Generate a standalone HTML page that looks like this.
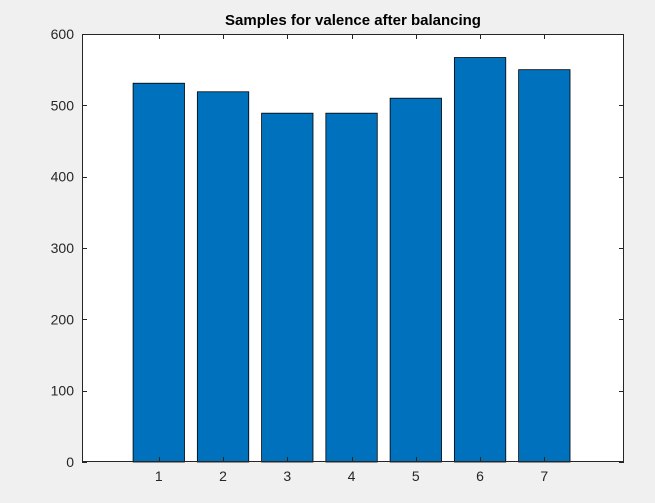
<!DOCTYPE html>
<html><head><meta charset="utf-8">
<style>
html,body{margin:0;padding:0;background:#f0f0f0;}
svg{display:block;font-family:"Liberation Sans",Arial,sans-serif;}
</style></head>
<body>
<svg id="chart" width="655" height="503" viewBox="0 0 655 503">
<rect x="0" y="0" width="655" height="503" fill="#f0f0f0"/>
<rect x="82" y="34" width="542" height="428" fill="#ffffff"/>
<text x="353" y="25" text-anchor="middle" font-size="15" font-weight="bold" fill="#000">Samples for valence after balancing</text>
<g id="bars"></g>
<g id="axes"></g>
</svg>
<script>
const categories = ["1","2","3","4","5","6","7"];
const values = [531, 519, 489, 489, 510, 567, 550];
const yTicks = [0,100,200,300,400,500,600];

const L=82,R=624,T=34,B=462;
const xMin=-0.195,xMax=8.24,yMin=0,yMax=600;
function xs(v){return L+(v-xMin)/(xMax-xMin)*(R-L);}
function ys(v){return B-(v-yMin)/(yMax-yMin)*(B-T);}
const NS="http://www.w3.org/2000/svg";
const bars=document.getElementById('bars');
const axes=document.getElementById('axes');
function mk(tag,attrs,parent){const e=document.createElementNS(NS,tag);for(const k in attrs)e.setAttribute(k,attrs[k]);parent.appendChild(e);return e;}
const bw=0.8*(xs(2)-xs(1));
values.forEach((v,i)=>{
  const cx=xs(i+1);
  const r=mk('rect',{x:cx-bw/2,y:ys(v),width:bw,height:ys(0)-ys(v),fill:'#0072bd',stroke:'#000','stroke-width':0.8},bars);
  
  
});
const frame=mk('rect',{x:L+0.5,y:T+0.5,width:R-L-1,height:B-T-1,fill:'none',stroke:'#262626','stroke-width':1},axes);


yTicks.forEach(t=>{
  const y=Math.round(ys(t))+0.5;
  mk('line',{x1:L,x2:L+5,y1:y,y2:y,stroke:'#262626'},axes);
  mk('line',{x1:R-5,x2:R,y1:y,y2:y,stroke:'#262626'},axes);
  const tx=mk('text',{x:L-8,y:ys(t)+5,'text-anchor':'end','font-size':14,fill:'#262626'},axes);
  tx.textContent=t;
  
  
});
categories.forEach((c,i)=>{
  const x=Math.round(xs(i+1))+0.5;
  mk('line',{x1:x,x2:x,y1:B,y2:B-5,stroke:'#262626'},axes);
  mk('line',{x1:x,x2:x,y1:T,y2:T+5,stroke:'#262626'},axes);
  const tx=mk('text',{x:xs(i+1),y:B+19,'text-anchor':'middle','font-size':14,fill:'#262626'},axes);
  tx.textContent=c;
  
  
});
</script>
</body></html>
